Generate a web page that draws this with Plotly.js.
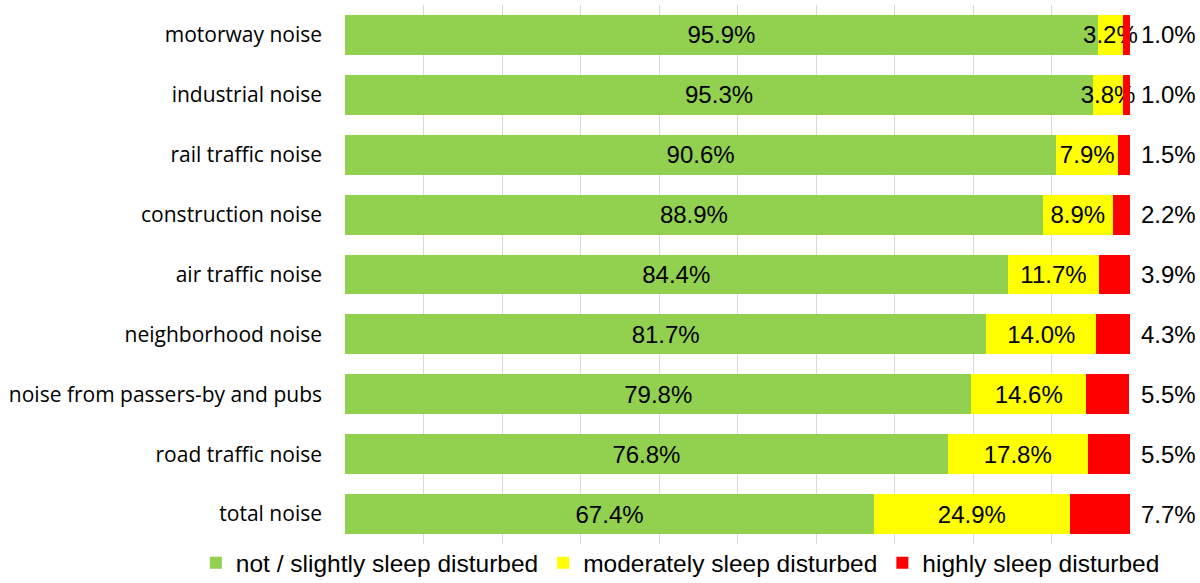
<!DOCTYPE html>
<html>
<head>
<meta charset="utf-8">
<script src="https://cdn.plot.ly/plotly-3.0.1.min.js"></script>
<style>html,body{margin:0;padding:0;background:#fff;} #chart{width:1200px;height:583px;}</style>
</head>
<body>
<div id="chart"></div>
<script>
var categories = ["motorway noise","industrial noise","rail traffic noise","construction noise","air traffic noise","neighborhood noise","noise from passers-by and pubs","road traffic noise","total noise"];
var notDisturbed = [95.9, 95.3, 90.6, 88.9, 84.4, 81.7, 79.8, 76.8, 67.4];
var moderately = [3.2, 3.8, 7.9, 8.9, 11.7, 14.0, 14.6, 17.8, 24.9];
var highly = [1.0, 1.0, 1.5, 2.2, 3.9, 4.3, 5.5, 5.5, 7.7];
var seriesNames = ["not / slightly sleep disturbed","moderately sleep disturbed","highly sleep disturbed"];
var tickVals = [0,10,20,30,40,50,60,70,80,90,100];

function fmt(v){ return v.toFixed(1) + "%"; }
var labelFont = {family: "Liberation Sans, Arial, sans-serif", size: 24, color: "#000"};

var traces = [
  {type:"bar", orientation:"h", name:seriesNames[0], y:categories, x:notDisturbed,
   marker:{color:"#92D050"}, text:notDisturbed.map(fmt), textposition:"inside", textangle:0,
   insidetextanchor:"middle", constraintext:"none", textfont:labelFont, hoverinfo:"none"},
  {type:"bar", orientation:"h", name:seriesNames[1], y:categories, x:moderately,
   marker:{color:"#FFFF00"}, text:moderately.map(fmt), textposition:"inside", textangle:0,
   insidetextanchor:"middle", constraintext:"none", textfont:labelFont, hoverinfo:"none",
   cliponaxis:false},
  {type:"bar", orientation:"h", name:seriesNames[2], y:categories, x:highly,
   marker:{color:"#FF0000"}, textposition:"none", hoverinfo:"none"}
];

var annotations = categories.map(function(c, i){
  return {x:100, y:c, xref:"x", yref:"y", text:fmt(highly[i]), showarrow:false,
          xanchor:"left", yanchor:"middle", xshift:9, font:labelFont};
});

var layout = {
  width:1200, height:583,
  margin:{l:345, r:70, t:5, b:39, autoexpand:false},
  barmode:"stack", bargap:1/3,
  paper_bgcolor:"#fff", plot_bgcolor:"#fff",
  xaxis:{range:[0,100], tickvals:tickVals, showticklabels:false, showgrid:true,
         gridcolor:"#D9D9D9", gridwidth:1, zeroline:false, showline:false, fixedrange:true},
  yaxis:{categoryorder:"array", categoryarray:categories, autorange:"reversed",
         showgrid:false, zeroline:false, showline:false, ticks:"", ticklabelstandoff:22,
         tickfont:{family:"Open Sans, sans-serif", size:21, color:"#000"}},
  showlegend:true,
  legend:{orientation:"h", xref:"paper", yref:"paper", x:-0.19, xanchor:"left",
          y:-0.035, yanchor:"middle",
          font:{family:"Liberation Sans, Arial, sans-serif", size:24.5, color:"#000"},
          itemwidth:30, traceorder:"normal", itemclick:false, bgcolor:"rgba(0,0,0,0)"},
  annotations:annotations
};

Plotly.newPlot("chart", traces, layout, {displayModeBar:false, staticPlot:true});
</script>
</body>
</html>
